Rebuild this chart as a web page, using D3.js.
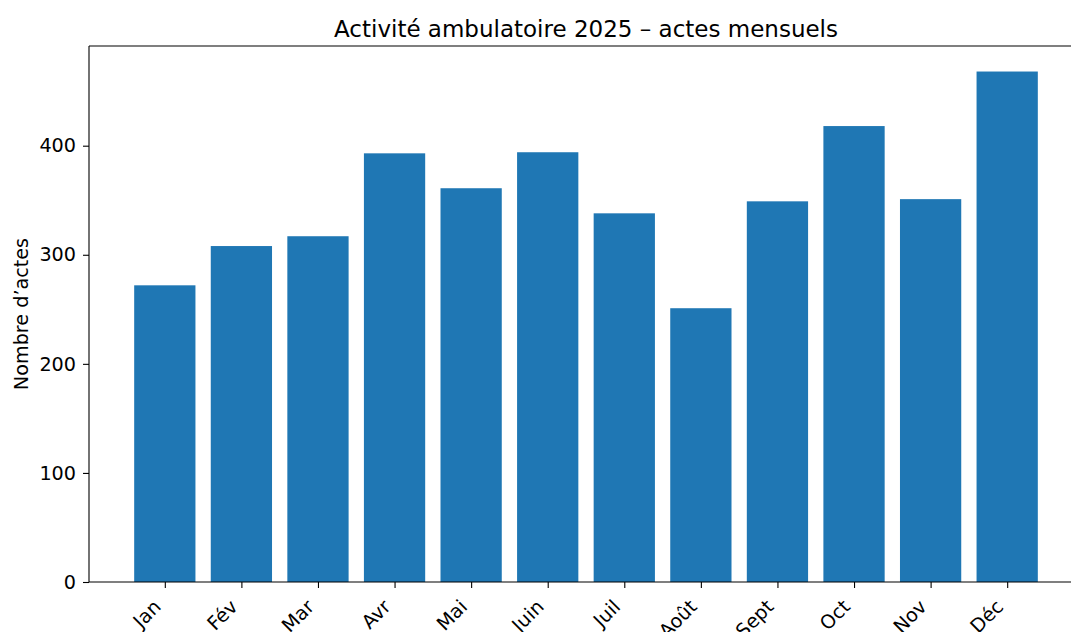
<!DOCTYPE html>
<meta charset="utf-8">
<style>
    body { margin: 0; background: #fff; }
    text { font-family: "DejaVu Sans", sans-serif; fill: #000; }
    .tick line { stroke: #000; stroke-width: 1.1px; }
    .domain { display: none; }
</style>
<body>
<svg id="chart" width="1071" height="632"></svg>
<script src="https://d3js.org/d3.v7.min.js"></script>
<script>
    // data
    var months = ["Jan", "Fév", "Mar", "Avr", "Mai", "Juin", "Juil", "Août", "Sept", "Oct", "Nov", "Déc"];
    var actes = [272, 308, 317, 393, 361, 394, 338, 251, 349, 418, 351, 468];
    var yTicks = [0, 100, 200, 300, 400];

    var svg = d3.select("#chart"),
        mLeft = 89, mRight = 1083, mTop = 46, mBottom = 582;

    // matplotlib-like limits: bars width 0.8 + 5% margins
    var barW = 0.8,
        lo = -barW / 2, hi = months.length - 1 + barW / 2,
        pad = (hi - lo) * 0.05;

    var x = d3.scaleLinear().domain([lo - pad, hi + pad]).range([mLeft, mRight]);
    var y = d3.scaleLinear().domain([0, d3.max(actes) * 1.05]).range([mBottom, mTop]);

    svg.append("g")
        .selectAll("rect")
        .data(actes)
        .enter().append("rect")
        .attr("x", function(d, i) { return x(i - barW / 2); })
        .attr("width", function() { return x(barW) - x(0); })
        .attr("y", function(d) { return y(d); })
        .attr("height", function(d) { return y(0) - y(d); })
        .attr("fill", "#1f77b4");

    // y axis
    var yAxis = svg.append("g")
        .attr("transform", "translate(" + mLeft + ",0)")
        .call(d3.axisLeft(y).tickValues(yTicks).tickSize(6).tickPadding(7));
    yAxis.selectAll("text").style("font-size", "19.2px").style("font-family", "DejaVu Sans");

    // x axis
    var xAxis = svg.append("g")
        .attr("transform", "translate(0," + mBottom + ")")
        .call(d3.axisBottom(x).tickValues(d3.range(months.length)).tickSize(6).tickFormat(function(i) { return months[i]; }));
    xAxis.selectAll("text")
        .style("font-size", "19.2px")
        .style("font-family", "DejaVu Sans")
        .attr("text-anchor", "end")
        .attr("y", 0).attr("dy", null)
        .attr("transform", "translate(-3.2,26) rotate(-45)");

    // spines
    function spine(x1, y1, x2, y2) {
        svg.append("line").attr("x1", x1).attr("y1", y1).attr("x2", x2).attr("y2", y2)
            .attr("stroke", "#000").attr("stroke-width", 1.1);
    }
    spine(mLeft, mTop, mLeft, mBottom);
    spine(mLeft, mBottom, mRight, mBottom);
    spine(mLeft, mTop, mRight, mTop);
    spine(mRight, mTop, mRight, mBottom);

    // title + label
    svg.append("text")
        .attr("x", (mLeft + mRight) / 2).attr("y", 36.5)
        .attr("text-anchor", "middle")
        .style("font-size", "23px")
        .text("Activité ambulatoire 2025 – actes mensuels");

    svg.append("text")
        .attr("transform", "translate(28," + (mTop + mBottom) / 2 + ") rotate(-90)")
        .attr("text-anchor", "middle")
        .style("font-size", "19.2px")
        .text("Nombre d’actes");
</script>
</body>
